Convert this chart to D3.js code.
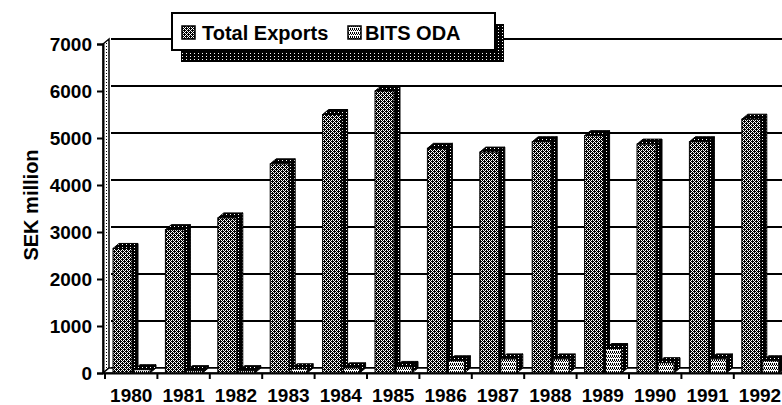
<!DOCTYPE html>
<html>
<head>
<meta charset="utf-8">
<script src="https://cdn.jsdelivr.net/npm/d3@7/dist/d3.min.js"></script>
<style>
  body { margin: 0; background: #fff; }
  svg { display: block; font-family: "Liberation Sans", Arial, sans-serif; }
</style>
</head>
<body>
<div id="chart"></div>
<script>
var years = ["1980", "1981", "1982", "1983", "1984", "1985", "1986", "1987", "1988", "1989", "1990", "1991", "1992"];
var totalExports = [2650, 3050, 3300, 4450, 5500, 6000, 4780, 4700, 4920, 5050, 4870, 4920, 5400];
var bitsOda = [70, 50, 50, 90, 110, 140, 260, 300, 300, 520, 220, 300, 260];
var yTicks = [0, 1000, 2000, 3000, 4000, 5000, 6000, 7000];
var seriesNames = ["Total Exports", "BITS ODA"];

var width = 782, height = 405;
var dx = 6, dy = -5;   // 3d depth of bars and back wall

var svg = d3.select("#chart").append("svg").attr("width", width).attr("height", height);

// fill patterns, roughly like the printed b/w hatching
var defs = svg.append("defs");
function pattern(id, w, h, bg, dots) {
    var p = defs.append("pattern").attr("id", id).attr("patternUnits", "userSpaceOnUse")
        .attr("width", w).attr("height", h);
    p.append("rect").attr("width", w).attr("height", h).attr("fill", bg);
    dots.forEach(function(d) {
        p.append("rect").attr("x", d[0]).attr("y", d[1]).attr("width", 1).attr("height", 1)
            .attr("fill", bg == "#000" ? "#fff" : "#000");
    });
}
pattern("expFront", 4, 4, "#fff", [[0, 0], [2, 0], [1, 1], [3, 1], [0, 2], [2, 2], [1, 3], [3, 3], [0, 1], [2, 3]]);
pattern("bitsFront", 4, 4, "#fff", [[0, 0], [2, 0], [1, 1], [3, 1], [0, 3], [2, 3]]);
pattern("dark", 4, 3, "#000", [[2, 1]]);
pattern("wallSide", 3, 3, "#fff", [[1, 1]]);

var y = d3.scaleLinear().domain([0, 7000]).range([373, 44]);
var x = d3.scaleBand().domain(years).range([105, 105 + years.length * 52.4]);

// back wall gridlines
svg.append("g").selectAll("line").data(yTicks).enter().append("line")
    .attr("x1", x.range()[0] + dx).attr("x2", width)
    .attr("y1", function(d) { return y(d) + dy; })
    .attr("y2", function(d) { return y(d) + dy; })
    .attr("stroke", "#000").attr("stroke-width", 2);

// left wall side
svg.append("path")
    .attr("d", "M103," + y(0) + "L103," + y(7000) + "L" + (103 + dx) + "," + (y(7000) + dy) +
        "L" + (103 + dx) + "," + (y(0) + dy) + "Z")
    .attr("fill", "url(#wallSide)").attr("stroke", "#000").attr("stroke-width", 1.5);

// floor
svg.append("path")
    .attr("d", "M103," + y(0) + "L" + (103 + dx) + "," + (y(0) + dy) + "L" + width + "," + (y(0) + dy) +
        "L" + width + "," + y(0) + "Z")
    .attr("fill", "#fff").attr("stroke", "#000").attr("stroke-width", 1.5);

// bars
var bars = [
    { values: totalExports, fill: "url(#expFront)", off: 8, w: 19 },
    { values: bitsOda, fill: "url(#bitsFront)", off: 29, w: 16 }
];
bars.forEach(function(s) {
    var g = svg.append("g").selectAll("g").data(years).enter().append("g");
    var x0 = function(d) { return x(d) + s.off; };
    var top = function(d, i) { return y(s.values[i]); };
    // side face
    g.append("path").attr("d", function(d, i) {
        var a = x0(d) + s.w, t = top(d, i);
        return "M" + a + "," + y(0) + "L" + a + "," + t + "L" + (a + dx) + "," + (t + dy) +
            "L" + (a + dx) + "," + (y(0) + dy) + "Z";
    }).attr("fill", "url(#dark)").attr("stroke", "#000").attr("stroke-width", 1);
    // top face
    g.append("path").attr("d", function(d, i) {
        var a = x0(d), t = top(d, i);
        return "M" + a + "," + t + "L" + (a + dx) + "," + (t + dy) + "L" + (a + s.w + dx) + "," + (t + dy) +
            "L" + (a + s.w) + "," + t + "Z";
    }).attr("fill", "url(#dark)").attr("stroke", "#000").attr("stroke-width", 1);
    // front face
    g.append("rect")
        .attr("x", x0).attr("y", top).attr("width", s.w)
        .attr("height", function(d, i) { return y(0) - top(d, i); })
        .attr("fill", s.fill).attr("stroke", "#000").attr("stroke-width", 1);
});

// y axis
var yAxis = svg.append("g").attr("transform", "translate(103,0)")
    .call(d3.axisLeft(y).tickValues(yTicks).tickFormat(d3.format("d")).tickSize(6).tickPadding(5));
yAxis.select(".domain").attr("stroke-width", 2);
yAxis.selectAll(".tick line").attr("stroke-width", 2);
yAxis.selectAll("text").attr("font-size", 19).attr("font-weight", "bold").attr("fill", "#000")
    .attr("font-family", "Liberation Sans, Arial, sans-serif");

// x axis: labels in the middle, ticks between categories
var xAxis = svg.append("g").attr("transform", "translate(0," + y(0) + ")")
    .call(d3.axisBottom(x).tickSize(0).tickPadding(16));
xAxis.select(".domain").attr("stroke-width", 2);
xAxis.selectAll("text").attr("font-size", 19).attr("font-weight", "bold").attr("fill", "#000")
    .attr("font-family", "Liberation Sans, Arial, sans-serif");
svg.append("g").selectAll("line").data(years).enter().append("line")
    .attr("x1", function(d) { return x(d); }).attr("x2", function(d) { return x(d); })
    .attr("y1", y(0)).attr("y2", y(0) + 6)
    .attr("stroke", "#000").attr("stroke-width", 2);

// y title
svg.append("text")
    .attr("transform", "translate(38,205) rotate(-90)")
    .attr("text-anchor", "middle")
    .attr("font-size", 20).attr("font-weight", "bold")
    .text("SEK million");

// legend with drop shadow
var lg = svg.append("g").attr("transform", "translate(172,13)");
lg.append("rect").attr("x", 9).attr("y", 11).attr("width", 323).attr("height", 38).attr("fill", "url(#dark)");
lg.append("rect").attr("width", 323).attr("height", 37).attr("fill", "#fff").attr("stroke", "#000").attr("stroke-width", 2);
var items = [{ x: 10, tx: 30, fill: "url(#expFront)" }, { x: 176, tx: 193, fill: "url(#bitsFront)" }];
items.forEach(function(it, i) {
    lg.append("rect").attr("x", it.x).attr("y", 13).attr("width", 13).attr("height", 13)
        .attr("fill", it.fill).attr("stroke", "#000").attr("stroke-width", 1.5);
    lg.append("text").attr("x", it.tx).attr("y", 27)
        .attr("font-size", 20).attr("font-weight", "bold").text(seriesNames[i]);
});
</script>
</body>
</html>
